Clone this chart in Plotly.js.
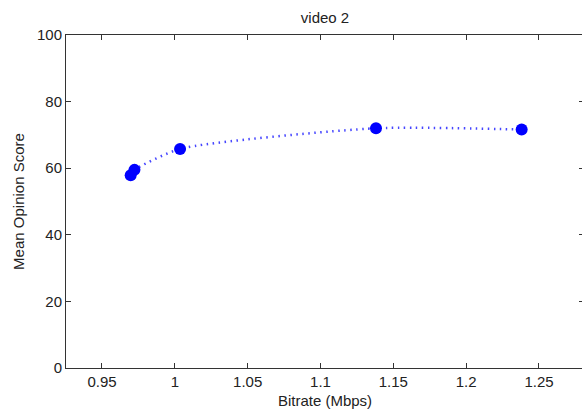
<!DOCTYPE html>
<html>
<head>
<meta charset="utf-8">
<script src="https://cdn.plot.ly/plotly-3.0.1.min.js"></script>
<style>
html,body{margin:0;padding:0;overflow:hidden;background:#fff;width:582px;height:412px;}
#chart{width:586px;height:412px;}
</style>
</head>
<body>
<div id="chart"></div>
<script>
// Data
const bitrate = [0.9697, 0.9723, 1.0036, 1.1381, 1.2381];
const mos = [57.9, 59.5, 65.8, 72.0, 71.6];
const xTicks = [0.95, 1, 1.05, 1.1, 1.15, 1.2, 1.25];
const xTickLabels = ['0.95', '1', '1.05', '1.1', '1.15', '1.2', '1.25'];
const yTicks = [0, 20, 40, 60, 80, 100];

const fontFam = '"Liberation Sans", Arial, Helvetica, sans-serif';

const traces = [
  {
    x: bitrate, y: mos, type: 'scatter', mode: 'lines',
    line: {color: 'rgb(70,70,255)', width: 2.5, dash: '1.5px,4.5px', shape: 'spline', smoothing: 0.6},
    hoverinfo: 'skip', showlegend: false
  },
  {
    x: bitrate, y: mos, type: 'scatter', mode: 'markers',
    marker: {color: 'rgb(0,0,255)', size: 12, line: {width: 0}},
    showlegend: false
  }
];

const layout = {
  width: 586, height: 412,
  margin: {l: 66, r: 2, t: 35, b: 44, pad: 0},
  paper_bgcolor: '#fff', plot_bgcolor: '#fff',
  font: {family: fontFam, size: 15, color: '#222'},
  showlegend: false,
  title: {text: 'video 2', font: {family: fontFam, size: 15, color: '#222'},
          x: 0.5, xref: 'paper', y: 1 - 18/412, yref: 'container', yanchor: 'middle'},
  xaxis: {
    range: [0.9253, 1.2809], tickvals: xTicks, ticktext: xTickLabels,
    ticks: 'inside', ticklen: 5, tickcolor: '#333', tickwidth: 1,
    showline: true, linecolor: '#333', linewidth: 1, mirror: 'ticks',
    showgrid: false, zeroline: false,
    tickfont: {family: fontFam, size: 15, color: '#222'},
    title: {text: 'Bitrate (Mbps)', font: {family: fontFam, size: 15, color: '#222'}, standoff: 6}
  },
  yaxis: {
    range: [0, 100], tickvals: yTicks,
    ticks: 'inside', ticklen: 5, tickcolor: '#333', tickwidth: 1,
    showline: true, linecolor: '#333', linewidth: 1, mirror: 'ticks',
    showgrid: false, zeroline: false,
    tickfont: {family: fontFam, size: 15, color: '#222'},
    title: {text: 'Mean Opinion Score', font: {family: fontFam, size: 15, color: '#222'}, standoff: 8}
  }
};

Plotly.newPlot('chart', traces, layout, {staticPlot: true, displayModeBar: false});
</script>
</body>
</html>
